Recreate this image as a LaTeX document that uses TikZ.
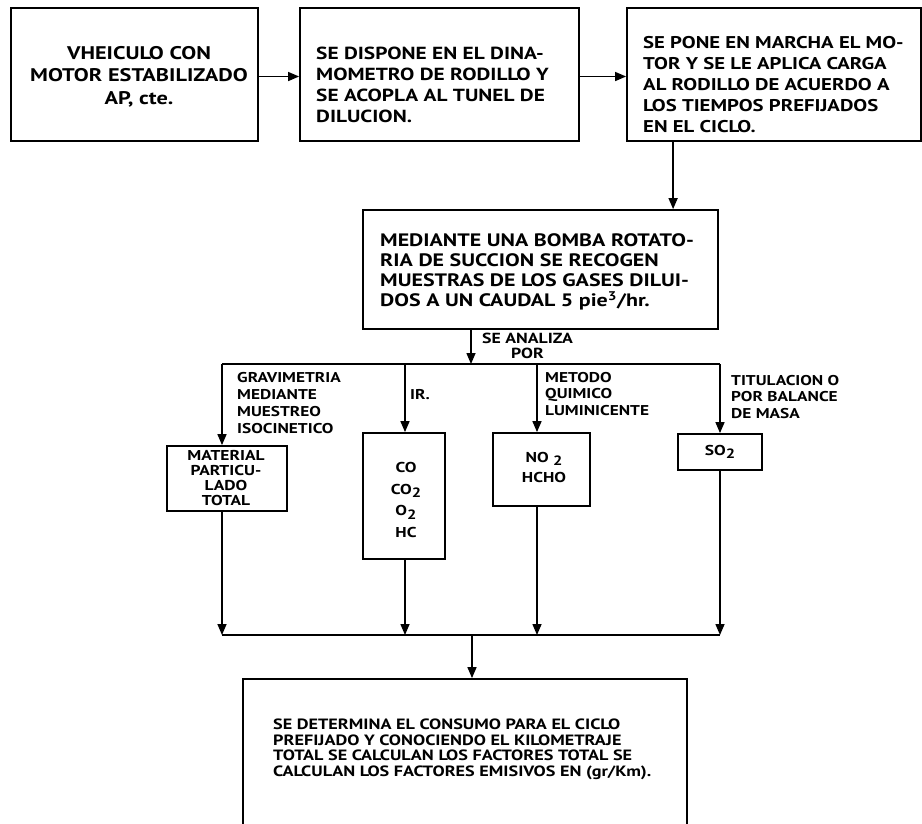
\documentclass[tikz,border=0pt]{standalone}
\usepackage{fontspec}
\setmainfont{PT Sans}[FakeStretch=1.22]
\usetikzlibrary{arrows.meta}

\newcommand{\bajo}[1]{\raisebox{-3.5pt}{\fontsize{13.5}{13.5}\selectfont #1}}

\tikzset{
    caja/.style={draw, line width=1.8pt, inner sep=0pt},
    flecha/.style={line width=1.5pt, -{Triangle[length=11pt,width=9pt]}},
    linea/.style={line width=1.5pt},
    txtgrande/.style={inner sep=0pt, align=left, font=\bfseries\fontsize{17.5}{21}\selectfont},
    txtmedio/.style={inner sep=0pt, align=left, font=\bfseries\fontsize{14.9}{15.5}\selectfont},
    txtchico/.style={inner sep=0pt, align=left, font=\bfseries\fontsize{14.2}{16.7}\selectfont},
    txtcaja/.style={inner sep=0pt, align=center, font=\bfseries\fontsize{14.3}{15}\selectfont}
}

\begin{document}
\begin{tikzpicture}[x=1pt, y=-1pt]
        \clip (0,0) rectangle (922,823);
        \fill[white] (0,0) rectangle (922,823);

        % fila de arriba
        \node[caja, minimum width=247pt, minimum height=133pt] (veh) at (134.5,74.5) {};
        \node[caja, minimum width=279pt, minimum height=133pt] (dina) at (439.5,74.5) {};
        \node[caja, minimum width=294pt, minimum height=133pt] (marcha) at (774,74.5) {};

        \node[txtgrande, align=center, font=\bfseries\fontsize{18.3}{22.5}\selectfont] (tveh) at (139,76.5) {VHEICULO CON\\MOTOR ESTABILIZADO\\AP, cte.};
        \node[txtgrande, anchor=west] (tdina) at (316,85) {SE DISPONE EN EL DINA-\\MOMETRO DE RODILLO Y\\SE ACOPLA AL TUNEL DE\\DILUCION.};
        \node[txtgrande, anchor=west, font=\bfseries\fontsize{17}{21}\selectfont] (tmarcha) at (643,85) {SE PONE EN MARCHA EL MO-\\TOR Y SE LE APLICA CARGA\\AL RODILLO DE ACUERDO A\\LOS TIEMPOS PREFIJADOS\\EN EL CICLO.};

        \draw[flecha] ([yshift=-2pt]veh.east) -- ([yshift=-2pt]dina.west);
        \draw[flecha] ([yshift=-2pt]dina.east) -- ([yshift=-2pt]marcha.west);

        % bomba
        \node[caja, minimum width=355pt, minimum height=119pt] (bomba) at (540.5,269.5) {};
        \node[txtgrande, anchor=west, font=\bfseries\fontsize{18}{20}\selectfont] (tbomba) at (380,272) {MEDIANTE UNA BOMBA ROTATO-\\RIA DE SUCCION SE RECOGEN\\MUESTRAS DE LOS GASES DILUI-\\DOS A UN CAUDAL 5 pie\textsuperscript{3}/hr.};
        \draw[flecha] ([xshift=47pt]marcha.south west) -- ([xshift=47pt]marcha.south west |- bomba.north);

        % ramas
        \coordinate (rama) at (471,364);
        \coordinate (r1) at (222,364);
        \coordinate (r2) at (405,364);
        \coordinate (r3) at (537,364);
        \coordinate (r4) at (720,364);
        \draw[flecha] (rama |- bomba.south) -- (rama);
        \node[txtchico, align=center, font=\bfseries\fontsize{14.6}{15}\selectfont] (tanaliza) at (527.5,346) {SE ANALIZA\\POR};
        \draw[linea] (r1) -- (r4);

        \node[caja, minimum width=120pt, minimum height=65pt] (mpt) at (227,478.5) {};
        \node[caja, minimum width=82pt, minimum height=126pt] (co) at (404,496) {};
        \node[caja, minimum width=97pt, minimum height=73pt] (no) at (541.5,469.5) {};
        \node[caja, minimum width=84pt, minimum height=36pt] (so) at (720,452) {};

        \draw[flecha] (r1) -- (r1 |- mpt.north);
        \draw[flecha] (r2) -- (r2 |- co.north);
        \draw[flecha] (r3) -- (r3 |- no.north);
        \draw[flecha] (r4) -- (r4 |- so.north);

        \node[txtchico, anchor=west] (tgrav) at (237,403) {GRAVIMETRIA\\MEDIANTE\\MUESTREO\\ISOCINETICO};
        \node[txtchico, anchor=west] (tir) at (410,395) {IR.};
        \node[txtchico, anchor=west] (tmetodo) at (545,394) {METODO\\QUIMICO\\LUMINICENTE};
        \node[txtchico, anchor=west] (ttitul) at (731,397) {TITULACION O\\POR BALANCE\\DE MASA};

        \node[txtcaja] (tmpt) at (226,478) {MATERIAL\\PARTICU-\\LADO\\TOTAL};
        \node[txtcaja, font=\bfseries\fontsize{14.3}{21.5}\selectfont] (tco) at (406,500) {CO\\CO\bajo{2}\\O\bajo{2}\\HC};
        \node[txtcaja, font=\bfseries\fontsize{14.3}{20}\selectfont] (tno) at (544,467) {NO \bajo{2}\\HCHO};
        \node[txtcaja] (tso) at (720,452) {SO\bajo{2}};

        % colector
        \coordinate (c1) at (222,635);
        \coordinate (c2) at (405,635);
        \coordinate (c3) at (537,635);
        \coordinate (c4) at (720,635);
        \coordinate (cm) at (472,635);
        \draw[flecha] (c1 |- mpt.south) -- (c1);
        \draw[flecha] (c2 |- co.south) -- (c2);
        \draw[flecha] (c3 |- no.south) -- (c3);
        \draw[flecha] (c4 |- so.south) -- (c4);
        \draw[linea] (c1) -- (c4);

        \node[caja, minimum width=444pt, minimum height=160pt] (fin) at (465,759) {};
        \draw[flecha] (cm) -- (cm |- fin.north);
        \node[txtmedio, anchor=west] (tfin) at (273,749.5) {SE DETERMINA EL CONSUMO PARA EL CICLO\\PREFIJADO Y CONOCIENDO EL KILOMETRAJE\\TOTAL SE CALCULAN LOS FACTORES TOTAL SE\\CALCULAN LOS FACTORES EMISIVOS EN (gr/Km).};
    \end{tikzpicture}
\end{document}
